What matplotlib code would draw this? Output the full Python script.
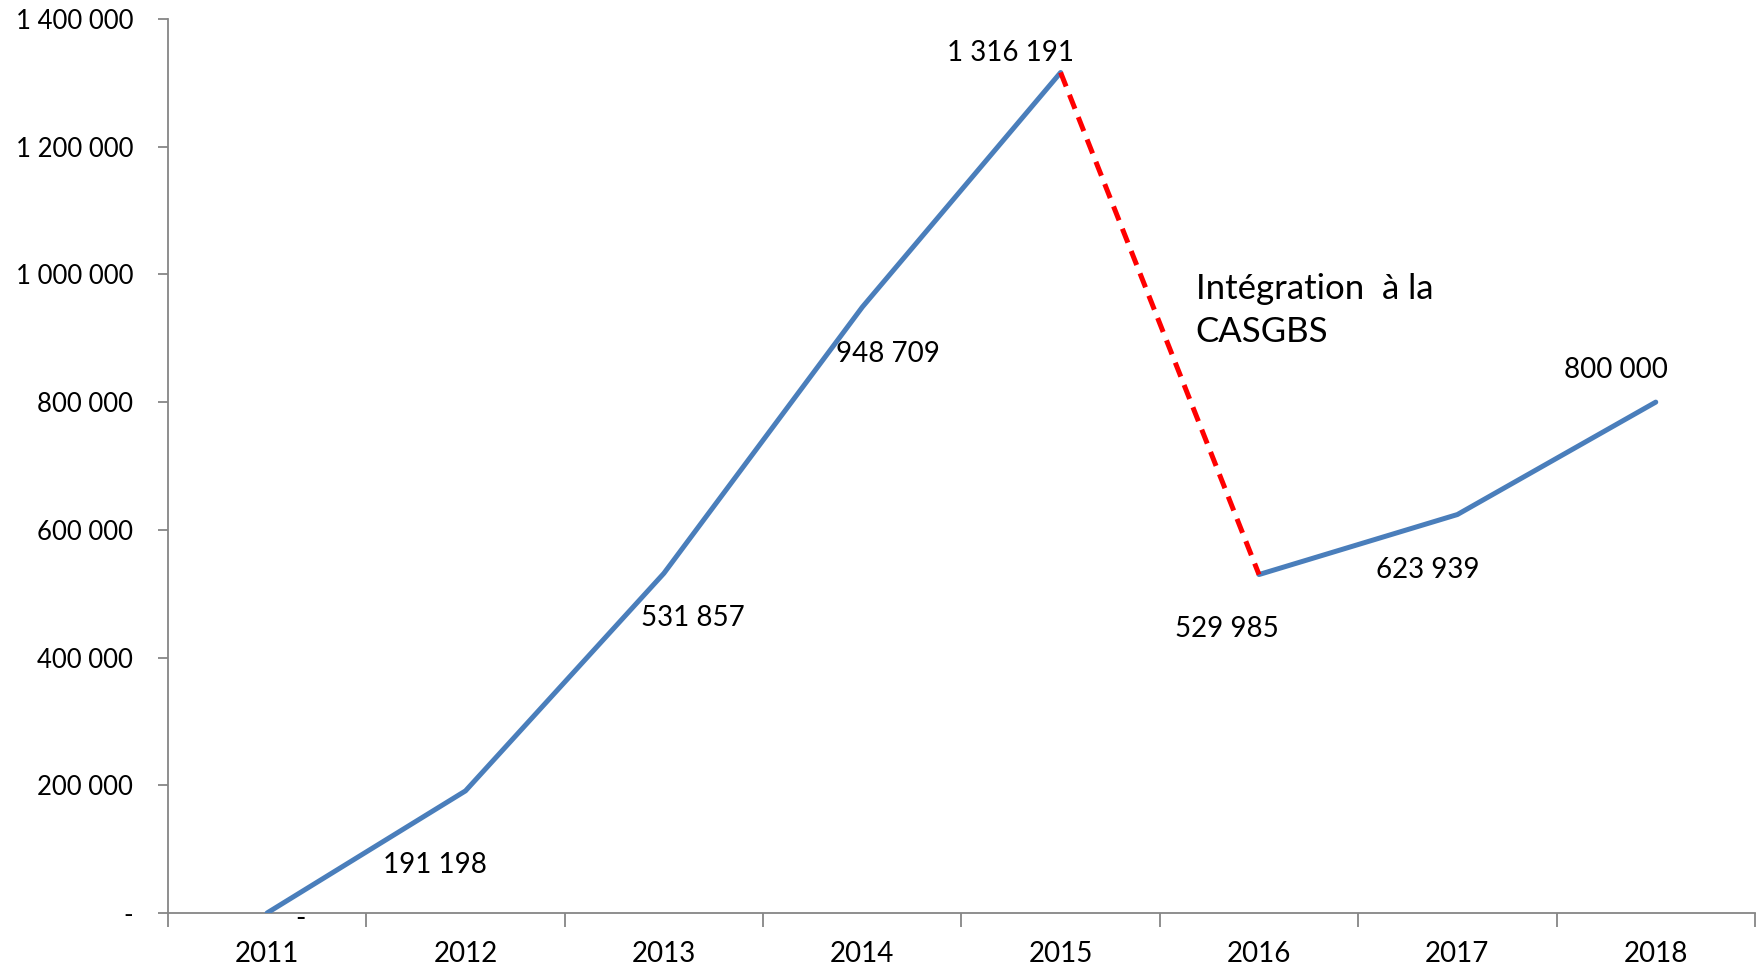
import matplotlib
matplotlib.use("Agg")
import matplotlib.pyplot as plt
from matplotlib.ticker import FixedLocator, FuncFormatter

years = ["2011", "2012", "2013", "2014", "2015", "2016", "2017", "2018"]
values = [0, 191198, 531857, 948709, 1316191, 529985, 623939, 800000]
annotation = "Intégration  à la\nCASGBS"

# label offsets in pixels (dx, dy) relative to each point
label_offsets = [(33, -6), (-31, -74), (29, -45), (26, -47),
                 (-50, 19), (-32, -54), (-30, -55), (-40, 32)]


def fmt(v):
    if v == 0:
        return "-"
    return f"{int(v):,}".replace(",", " ")


plt.rcParams["font.family"] = ["Lato", "DejaVu Sans"]
fig = plt.figure(figsize=(17.62, 9.73), dpi=100)
ax = fig.add_axes([0.0953, 0.0617, 0.9007, 0.9188])

x = list(range(len(years)))
blue = "#4A7EBB"
ax.plot(x[:5], values[:5], color=blue, lw=3.6, solid_capstyle="round", zorder=3)
ax.plot(x[5:], values[5:], color=blue, lw=3.6, solid_capstyle="round", zorder=3)
ax.plot(x[4:6], values[4:6], color="#FF0000", lw=3.6, ls=(0, (3, 1.8)), zorder=3)

for xi, v, (dx, dy) in zip(x, values, label_offsets):
    ax.annotate(fmt(v), (xi, v), xytext=(dx, dy), textcoords="offset pixels",
                ha="center", va="center", fontsize=20, color="black")

ax.text(4.68, 1002000, annotation, fontsize=25, ha="left", va="top",
        linespacing=1.4)

ax.set_xlim(-0.5, 7.5)
ax.set_ylim(0, 1400000)
ax.xaxis.set_major_locator(FixedLocator([i - 0.5 for i in range(len(years) + 1)]))
ax.xaxis.set_minor_locator(FixedLocator(x))
ax.set_xticklabels([""] * (len(years) + 1))
ax.set_xticklabels(years, minor=True)
ax.tick_params(axis="x", which="major", length=10, width=1.3, color="#868686")
ax.tick_params(axis="x", which="minor", length=0, labelsize=20, pad=20)
ax.set_yticks(range(0, 1400001, 200000))
ax.yaxis.set_major_formatter(FuncFormatter(lambda v, p: fmt(v)))
ax.tick_params(axis="y", length=7, width=1.3, color="#868686", labelsize=18.5, pad=18)
for lbl in ax.get_yticklabels():
    lbl.set_ha("right")

for s in ("top", "right"):
    ax.spines[s].set_visible(False)
for s in ("left", "bottom"):
    ax.spines[s].set_color("#868686")
    ax.spines[s].set_linewidth(1.3)

fig.savefig("out.png", dpi=100)
